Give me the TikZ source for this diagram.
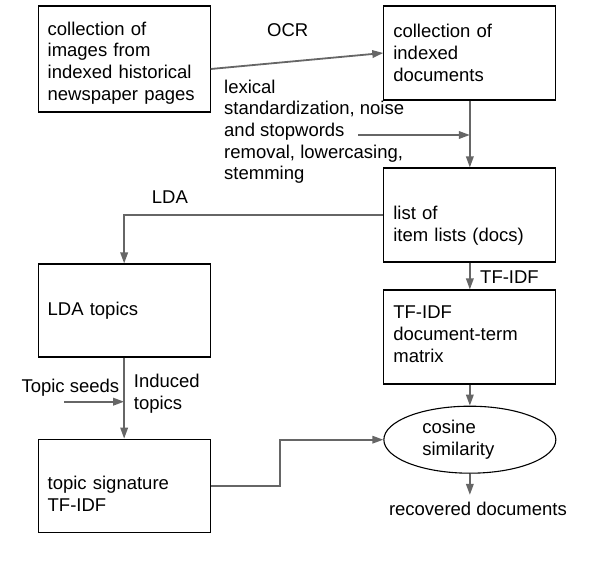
\documentclass[tikz,border=0pt]{standalone}
\usepackage{fontspec}
\setmainfont{Liberation Sans}
\usetikzlibrary{arrows.meta, shapes.geometric}

\tikzset{
  box/.style={draw, line width=1.1pt, minimum width=172pt, inner sep=0pt, text width=153pt, align=left},
  flow/.style={draw=black!60, line width=1.8pt, -{Triangle[length=11pt, width=7.5pt]}},
  lbl/.style={inner sep=0pt, align=left},
  tdown/.style={execute at begin node={\rule{0pt}{#1}}},
  tup/.style={execute at end node={\rule[-#1]{0pt}{0pt}}},
}

\begin{document}
\begin{tikzpicture}[x=1pt, y=-1pt, font=\fontsize{18.5}{21.7}\selectfont]
    \useasboundingbox (0,0) rectangle (605,561);

    % left column
    \node[box, minimum height=106pt, tdown=21.5pt] (img) at (124.15,59) {collection of\\images from\\indexed historical\\newspaper pages};
    \node[box, minimum height=93pt] (lda) at (124.15,310.5) {LDA topics};
    \node[box, minimum height=93pt, tdown=29.5pt] (sig) at (124.15,485.7) {topic signature\\TF-IDF};

    % right column
    \node[box, minimum height=94pt] (idx) at (469.85,53) {collection of\\indexed\\documents};
    \node[box, minimum height=94pt, tdown=35.5pt] (lst) at (469.85,215) {list of\\item lists (docs)};
    \node[box, minimum height=94pt, tup=6pt] (mat) at (469.85,337) {TF-IDF\\document-term\\matrix};
    \node[draw, ellipse, line width=1.1pt, minimum width=172pt, minimum height=67pt, inner sep=0pt, text width=95pt, align=left] (cos) at (469.85,439.7) {cosine\\similarity};
    \node[lbl, anchor=base west, inner ysep=7pt] (rec) at (388.8,515.5) {recovered documents};

    % step labels
    \node[lbl, anchor=base west] (ocr) at (267,37) {OCR};
    \node[lbl, anchor=north west] (lex) at (224,79.5) {lexical\\standardization, noise\\and stopwords\\removal, lowercasing,\\stemming};
    \node[lbl, anchor=base west] (ldalbl) at (151.7,203.7) {LDA};
    \node[lbl, anchor=base west] (tfidf) at (480,283.7) {TF-IDF};
    \node[lbl, anchor=base west] (seeds) at (21.3,392) {Topic seeds};
    \node[lbl, anchor=north west] (induced) at (133.7,374.3) {Induced\\topics};

    % connectors
    \coordinate (lexstart) at (358,135);
    \coordinate (seedstart) at (64,401.7);
    \coordinate (bend) at (280,460);
    \draw[flow] ([yshift=-10pt]img.east) -- (idx.west);
    \draw[flow] (idx.south) -- (lst.north);
    \draw[flow] (lexstart) -- (lexstart -| idx.south);
    \draw[flow] (lst.west) -| (lda.north);
    \draw[flow] (lst.south) -- (mat.north);
    \draw[flow] (lda.south) -- (sig.north);
    \draw[flow] (seedstart) -- (seedstart -| lda.south);
    \draw[flow] (sig.east) -| (bend) |- (cos.west);
    \draw[flow] (mat.south) -- (cos.north);
    \draw[flow] (cos.south) -- (cos.south |- rec.north);
\end{tikzpicture}
\end{document}
